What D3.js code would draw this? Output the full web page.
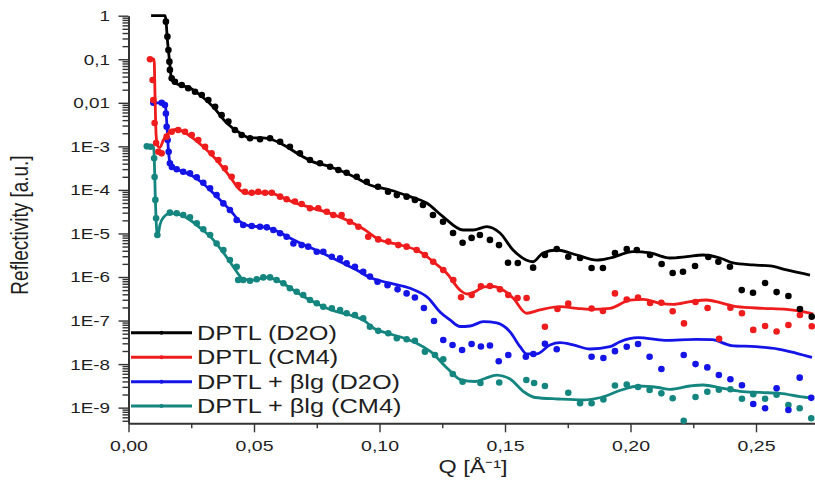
<!DOCTYPE html>
<html>
<head>
<meta charset="utf-8">
<script src="https://cdn.jsdelivr.net/npm/d3@7"></script>
<style>
  html, body { margin: 0; padding: 0; background: #fff; }
  svg { display: block; font-family: "Liberation Sans", Arial, sans-serif; }
</style>
</head>
<body>
<svg id="chart" width="815" height="493"></svg>
<script>
// series names and colours (legend order)
const seriesNames = ["DPTL (D2O)", "DPTL (CM4)", "DPTL + \u03b2lg (D2O)", "DPTL + \u03b2lg (CM4)"];
const seriesColors = ["#000000", "#ee1c1c", "#1414e6", "#15867f"];

// axis ticks
const xTicks = [0, 0.05, 0.10, 0.15, 0.20, 0.25];
const xMinorTicks = [0.025, 0.075, 0.125, 0.175, 0.225];
const yTicks = [1, 0.1, 0.01, 1e-3, 1e-4, 1e-5, 1e-6, 1e-7, 1e-8, 1e-9];
const yTickLabels = ["1", "0,1", "0,01", "1E-3", "1E-4", "1E-5", "1E-6", "1E-7", "1E-8", "1E-9"];

// [Q, reflectivity] : fitted curves
const blackFit = [[0.009,1],[0.0145,1],[0.0149,0.8],[0.0155,0.277],[0.0163,0.096],[0.0172,0.0334],[0.0178,0.0305],[0.0205,0.0256],[0.0245,0.0219],[0.0285,0.0151],[0.0337,8.1e-3],[0.0391,3.44e-3],[0.0444,2.03e-3],[0.0484,1.56e-3],[0.0536,1.56e-3],[0.0576,1.4e-3],[0.063,9.8e-4],[0.0683,6.3e-4],[0.0735,4.4e-4],[0.0803,3.4e-4],[0.0855,2.6e-4],[0.0909,1.87e-4],[0.0962,1.3e-4],[0.1042,9.95e-5],[0.1122,7.0e-5],[0.1188,5.0e-5],[0.1253,2.43e-5],[0.1333,1.2e-5],[0.1373,1.2e-5],[0.1427,1.43e-5],[0.148,1.02e-5],[0.1532,4.17e-6],[0.1612,2.24e-6],[0.1651,3.56e-6],[0.1706,4.17e-6],[0.1786,3.2e-6],[0.1865,2.45e-6],[0.1918,2.73e-6],[0.201,3.81e-6],[0.2078,3.56e-6],[0.2157,2.73e-6],[0.2224,2.92e-6],[0.2289,3.2e-6],[0.2357,2.73e-6],[0.2408,2.1e-6],[0.2488,1.89e-6],[0.2556,1.79e-6],[0.2622,1.45e-6],[0.2715,1.11e-6]];
const redFit = [[0.0073,0.1],[0.0102,0.1],[0.0106,0.0116],[0.011,1.82e-3],[0.0116,1.02e-3],[0.0125,9.4e-4],[0.0139,1.4e-3],[0.0165,2.17e-3],[0.0192,2.47e-3],[0.0218,2.17e-3],[0.0258,1.53e-3],[0.0298,9.8e-4],[0.0351,4.86e-4],[0.0404,2.01e-4],[0.0444,9.95e-5],[0.0471,8.4e-5],[0.0511,8.6e-5],[0.0564,8.6e-5],[0.0604,7.0e-5],[0.067,4.9e-5],[0.0736,3.78e-5],[0.0803,2.9e-5],[0.0869,2.04e-5],[0.0935,1.28e-5],[0.1002,7.1e-6],[0.1055,5.9e-6],[0.1108,4.97e-6],[0.1161,3.81e-6],[0.1214,2.24e-6],[0.1268,1.22e-6],[0.1321,5.0e-7],[0.1349,4.07e-7],[0.138,4.6e-7],[0.1414,5.9e-7],[0.1453,6.05e-7],[0.1493,5.0e-7],[0.1533,3.24e-7],[0.1586,1.47e-7],[0.1639,1.75e-7],[0.1719,2.08e-7],[0.1786,1.91e-7],[0.1839,1.81e-7],[0.1918,1.91e-7],[0.1998,2.96e-7],[0.2051,3.07e-7],[0.2118,2.49e-7],[0.2171,2.36e-7],[0.2237,2.71e-7],[0.2304,2.96e-7],[0.2357,2.57e-7],[0.2423,2.08e-7],[0.2529,1.91e-7],[0.2622,1.81e-7],[0.2688,1.6e-7],[0.2728,1.41e-7]];
const blueFit = [[0.0099,0.01],[0.0145,0.01],[0.0149,6.8e-3],[0.0155,2.0e-3],[0.0159,8.2e-4],[0.0163,4.86e-4],[0.0168,3.73e-4],[0.0185,3.13e-4],[0.0218,2.62e-4],[0.0255,2.08e-4],[0.0297,1.4e-4],[0.0337,8.5e-5],[0.0373,5.3e-5],[0.0408,3.27e-5],[0.0444,1.88e-5],[0.0484,1.48e-5],[0.0536,1.41e-5],[0.059,1.14e-5],[0.0643,7.9e-6],[0.0696,5.6e-6],[0.075,4.06e-6],[0.0803,2.92e-6],[0.0856,2.06e-6],[0.0909,1.45e-6],[0.0962,9.7e-7],[0.1042,7.2e-7],[0.1122,5.5e-7],[0.1194,3.3e-7],[0.1241,1.57e-7],[0.1281,1.03e-7],[0.1321,7.3e-8],[0.1361,7.5e-8],[0.1414,9.4e-8],[0.1467,8.8e-8],[0.152,5.5e-8],[0.156,2.51e-8],[0.1586,1.71e-8],[0.1626,1.71e-8],[0.1679,2.75e-8],[0.1719,3.1e-8],[0.1772,2.75e-8],[0.1839,2.22e-8],[0.1918,2.51e-8],[0.1958,3.27e-8],[0.203,4.04e-8],[0.2137,3.52e-8],[0.2261,3.71e-8],[0.2325,3.63e-8],[0.2402,2.67e-8],[0.25,2.51e-8],[0.2588,2.22e-8],[0.2662,1.77e-8],[0.2723,1.43e-8]];
const tealFit = [[0.0073,1e-3],[0.01,1e-3],[0.0104,2.86e-4],[0.0107,5.9e-5],[0.011,2.04e-5],[0.0116,8.5e-6],[0.0125,1.56e-5],[0.0139,2.32e-5],[0.0165,2.9e-5],[0.0201,2.72e-5],[0.0245,2.04e-5],[0.0291,1.26e-5],[0.0331,7.9e-6],[0.0365,4.56e-6],[0.0404,2.24e-6],[0.0431,1.32e-6],[0.0457,8.9e-7],[0.0497,8.5e-7],[0.0551,9.8e-7],[0.0604,7.8e-7],[0.0657,5.0e-7],[0.071,3.24e-7],[0.0776,2.08e-7],[0.0829,1.6e-7],[0.0882,1.34e-7],[0.0935,1.03e-7],[0.0982,6.4e-8],[0.1042,4.91e-8],[0.1102,3.87e-8],[0.1148,3.01e-8],[0.1205,1.9e-8],[0.1273,7.7e-9],[0.1325,4.32e-9],[0.138,3.98e-9],[0.142,4.67e-9],[0.1467,5.6e-9],[0.152,4.55e-9],[0.1576,2.29e-9],[0.162,1.71e-9],[0.1711,1.58e-9],[0.1811,1.5e-9],[0.1882,1.71e-9],[0.1964,2.54e-9],[0.203,3.14e-9],[0.211,2.9e-9],[0.2157,2.64e-9],[0.2237,3.14e-9],[0.229,3.31e-9],[0.2357,2.86e-9],[0.2436,2.37e-9],[0.2516,2.23e-9],[0.2596,2.13e-9],[0.2675,1.8e-9],[0.2723,1.67e-9]];

// [Q, reflectivity] : measured points
const blackData = [[0.0149,0.73],[0.0155,0.33],[0.0159,0.163],[0.0163,0.088],[0.0165,0.057],[0.0172,0.0366],[0.0185,0.0305],[0.0212,0.0256],[0.0238,0.0215],[0.0265,0.018],[0.0292,0.0151],[0.0318,0.0116],[0.0345,8.1e-3],[0.0371,5.2e-3],[0.0398,3.7e-3],[0.0424,2.37e-3],[0.0451,1.82e-3],[0.0484,1.53e-3],[0.0524,1.45e-3],[0.0564,1.53e-3],[0.0604,1.28e-3],[0.0643,9.8e-4],[0.0683,6.9e-4],[0.0723,4.86e-4],[0.0763,4.08e-4],[0.0803,3.41e-4],[0.0836,2.86e-4],[0.0869,2.48e-4],[0.0909,2.01e-4],[0.0949,1.54e-4],[0.0994,1.18e-4],[0.1034,9.1e-5],[0.1069,7.6e-5],[0.1108,7.0e-5],[0.1141,5.9e-5],[0.1173,4.5e-5],[0.1213,2.65e-5],[0.1253,1.86e-5],[0.1293,1.02e-5],[0.1331,6.1e-6],[0.1367,7.9e-6],[0.14,9.2e-6],[0.144,7.1e-6],[0.1476,5.4e-6],[0.1512,2.13e-6],[0.1551,2.1e-6],[0.1612,1.64e-6],[0.1659,3.2e-6],[0.1706,4.4e-6],[0.1752,2.92e-6],[0.1799,2.73e-6],[0.1845,1.61e-6],[0.189,1.61e-6],[0.1938,3.56e-6],[0.1985,4.4e-6],[0.2025,4.17e-6],[0.2078,3.2e-6],[0.2124,1.99e-6],[0.2168,1.24e-6],[0.2209,1.32e-6],[0.2257,1.79e-6],[0.231,2.88e-6],[0.235,2.24e-6],[0.2396,1.72e-6],[0.2443,5.0e-7],[0.2488,4.35e-7],[0.2536,7.3e-7],[0.2582,4.5e-7],[0.2629,3.66e-7],[0.2675,1.84e-7],[0.2722,1.23e-7]];
const redData = [[0.0086,0.1],[0.0096,0.0334],[0.0099,0.0116],[0.0104,3.44e-3],[0.011,1.19e-3],[0.0119,7.5e-4],[0.0132,6.9e-4],[0.0152,1.67e-3],[0.0172,2.17e-3],[0.0198,2.37e-3],[0.0225,2.17e-3],[0.0252,1.82e-3],[0.0278,1.4e-3],[0.0305,9.8e-4],[0.0331,6.9e-4],[0.0358,4.86e-4],[0.0384,3.13e-4],[0.0411,2.01e-4],[0.0437,1.3e-4],[0.0464,9.1e-5],[0.0491,8.6e-5],[0.0517,9.1e-5],[0.0544,8.6e-5],[0.0571,8.6e-5],[0.0604,7.0e-5],[0.063,6.1e-5],[0.0663,5.4e-5],[0.069,4.75e-5],[0.0723,3.78e-5],[0.0756,3.78e-5],[0.079,3.16e-5],[0.0816,2.65e-5],[0.0849,2.65e-5],[0.0882,1.86e-5],[0.0916,1.43e-5],[0.0955,8.4e-6],[0.0995,7.3e-6],[0.1035,6.5e-6],[0.1075,5.4e-6],[0.1108,4.97e-6],[0.1148,4.17e-6],[0.1181,3.2e-6],[0.1214,2.24e-6],[0.1254,1.45e-6],[0.1294,8.5e-7],[0.1325,3.42e-7],[0.1367,3.86e-7],[0.1404,6.1e-7],[0.144,6.2e-7],[0.148,5.2e-7],[0.1513,3.86e-7],[0.155,3.3e-7],[0.1586,3.3e-7],[0.1659,7.2e-8],[0.1709,1.84e-7],[0.1752,2.44e-7],[0.1845,1.89e-7],[0.189,1.66e-7],[0.1938,4.2e-7],[0.1985,3.04e-7],[0.203,3.38e-7],[0.2078,2.53e-7],[0.2123,2.57e-7],[0.2168,1.63e-7],[0.2213,8.6e-8],[0.2259,2.67e-7],[0.2307,1.94e-7],[0.2353,3.8e-8],[0.2398,1.97e-7],[0.2444,1.47e-7],[0.2489,6.1e-8],[0.2536,7.5e-8],[0.2582,5.6e-8],[0.2629,7.9e-8],[0.2675,1.34e-7],[0.2722,7.4e-8]];
const blueData = [[0.0099,0.01],[0.0132,0.01],[0.0145,8.9e-3],[0.0149,5.7e-3],[0.0152,2.82e-3],[0.0156,1.4e-3],[0.016,7.5e-4],[0.0165,4.08e-4],[0.0173,3.36e-4],[0.0192,2.97e-4],[0.0218,2.62e-4],[0.0245,2.4e-4],[0.0272,1.95e-4],[0.0298,1.46e-4],[0.0325,1.09e-4],[0.0351,7.6e-5],[0.0378,4.9e-5],[0.0404,3.45e-5],[0.0431,2.04e-5],[0.0457,1.56e-5],[0.0491,1.48e-5],[0.0524,1.43e-5],[0.0551,1.38e-5],[0.0577,1.2e-5],[0.0604,1.01e-5],[0.063,8.4e-6],[0.0657,5.9e-6],[0.069,5.4e-6],[0.0716,4.97e-6],[0.075,3.81e-6],[0.0776,3.81e-6],[0.081,2.92e-6],[0.0843,2.69e-6],[0.0869,2.06e-6],[0.0902,1.72e-6],[0.0935,1.32e-6],[0.0962,1.02e-6],[0.0992,7.8e-7],[0.1032,6.5e-7],[0.1072,5.2e-7],[0.1108,4.2e-7],[0.1141,3.38e-7],[0.1177,1.94e-7],[0.1217,9.8e-8],[0.1254,3.57e-8],[0.1291,2.75e-8],[0.1329,2.11e-8],[0.1367,2.9e-8],[0.1404,2.54e-8],[0.144,2.67e-8],[0.1475,1.16e-8],[0.1513,1.62e-8],[0.1583,1.48e-8],[0.1613,1.71e-8],[0.1659,2.94e-8],[0.1706,2.19e-8],[0.1845,1.48e-8],[0.1892,1.38e-8],[0.1938,1.98e-8],[0.1985,2.51e-8],[0.203,2.9e-8],[0.2076,1.48e-8],[0.2123,7.7e-9],[0.2212,1.62e-8],[0.2259,1.0e-8],[0.2306,8.4e-9],[0.2352,5.6e-9],[0.2398,4.48e-9],[0.2444,3.26e-9],[0.2489,1.21e-9],[0.2536,9.7e-10],[0.2582,2.78e-9],[0.2629,8.8e-10],[0.2674,4.88e-9],[0.272,1.68e-9]];
const tealData = [[0.0073,1e-3],[0.0088,9.8e-4],[0.0102,5.3e-4],[0.0104,1.98e-4],[0.0107,5.9e-5],[0.011,2.23e-5],[0.0115,9.2e-6],[0.0165,3.0e-5],[0.0192,2.9e-5],[0.0218,2.65e-5],[0.0245,2.35e-5],[0.0272,1.71e-5],[0.0298,1.25e-5],[0.0325,9.2e-6],[0.0351,5.9e-6],[0.0378,4.17e-6],[0.0404,2.45e-6],[0.0431,1.72e-6],[0.0437,8.5e-7],[0.0457,8.5e-7],[0.0484,8.2e-7],[0.0511,8.9e-7],[0.0537,9.8e-7],[0.0564,9.8e-7],[0.059,8.5e-7],[0.0617,7.2e-7],[0.0643,5.5e-7],[0.067,4.6e-7],[0.0696,3.86e-7],[0.0723,2.96e-7],[0.075,2.49e-7],[0.0776,2.08e-7],[0.081,1.91e-7],[0.0843,1.75e-7],[0.0869,1.47e-7],[0.0902,1.34e-7],[0.0935,1.13e-7],[0.0962,7.2e-8],[0.0995,5.8e-8],[0.1035,5.1e-8],[0.1069,3.91e-8],[0.1108,3.71e-8],[0.1141,3.44e-8],[0.1181,1.93e-8],[0.1221,1.62e-8],[0.1254,1.29e-8],[0.1292,5.9e-9],[0.1331,3.94e-9],[0.1402,3.68e-9],[0.1477,3.78e-9],[0.1585,4.32e-9],[0.1616,3.68e-9],[0.1659,3.14e-9],[0.1752,2.2e-9],[0.1799,1.26e-9],[0.1845,1.26e-9],[0.1892,1.54e-9],[0.1938,3.23e-9],[0.1985,3.4e-9],[0.203,2.98e-9],[0.2076,2.54e-9],[0.2123,2.13e-9],[0.2168,1.64e-9],[0.2212,5.0e-10],[0.2259,1.76e-9],[0.2306,2.32e-9],[0.2352,2.58e-9],[0.2398,2.64e-9],[0.2444,1.6e-9],[0.2489,2.04e-9],[0.2536,1.6e-9],[0.2582,1.98e-9],[0.2629,1.15e-9],[0.2674,9.7e-10],[0.272,5.7e-10]];

const series = [
  {name: seriesNames[0], color: seriesColors[0], fit: blackFit, data: blackData},
  {name: seriesNames[1], color: seriesColors[1], fit: redFit, data: redData},
  {name: seriesNames[2], color: seriesColors[2], fit: blueFit, data: blueData},
  {name: seriesNames[3], color: seriesColors[3], fit: tealFit, data: tealData}
];

const width = 815, height = 493;
const margin = {top: 15.7, right: 0, bottom: 69.7, left: 128.5};
const stretch = 1.3;   // the original picture is wider than tall text would be
const axisColor = "#333";
const textColor = "#1e1e1e";

const svg = d3.select("#chart");

const x = d3.scaleLinear()
  .domain([0, 0.2735])
  .range([margin.left, width - margin.right]);

const y = d3.scaleLog()
  .domain([4.37e-10, 1])
  .range([height - margin.bottom, margin.top]);

// y minor ticks (2..9 in every decade)
const yMinor = [];
for (let e = -10; e <= -1; e++) {
  for (let m = 2; m <= 9; m++) {
    const v = m * Math.pow(10, e);
    if (v >= y.domain()[0] && v <= 1) yMinor.push(v);
  }
}

// axes
const yAxisMinor = svg.append("g")
  .attr("transform", `translate(${margin.left},0)`)
  .call(d3.axisLeft(y).tickValues(yMinor).tickSize(6).tickSizeOuter(0).tickFormat(""));
yAxisMinor.select(".domain").remove();

const yAxis = svg.append("g")
  .attr("transform", `translate(${margin.left},0)`)
  .call(d3.axisLeft(y).tickValues(yTicks).tickSize(10).tickSizeOuter(0)
    .tickFormat((d, i) => yTickLabels[i]));

yAxis.selectAll("text")
  .attr("x", -18.5 / stretch)
  .attr("dy", "0.34em")
  .attr("transform", `scale(${stretch},1)`)
  .attr("font-size", 14.5)
  .attr("fill", textColor);

const xAxisMinor = svg.append("g")
  .attr("transform", `translate(0,${height - margin.bottom})`)
  .call(d3.axisBottom(x).tickValues(xMinorTicks).tickSize(5).tickSizeOuter(0).tickFormat(""));
xAxisMinor.select(".domain").remove();

const xAxis = svg.append("g")
  .attr("transform", `translate(0,${height - margin.bottom})`)
  .call(d3.axisBottom(x).tickValues(xTicks).tickSize(9).tickSizeOuter(0)
    .tickFormat(d => d.toFixed(2).replace(".", ",")));

xAxis.selectAll("text")
  .attr("y", 28.2)
  .attr("dy", 0)
  .attr("transform", `scale(${stretch},1)`)
  .attr("font-size", 15)
  .attr("fill", textColor);

svg.selectAll(".domain").attr("stroke", axisColor).attr("stroke-width", 2);
svg.selectAll(".tick line").attr("stroke", axisColor).attr("stroke-width", 1.4);

// axis titles
svg.append("text")
  .attr("transform", `translate(27.5,225) scale(${stretch},1) rotate(-90)`)
  .attr("text-anchor", "middle")
  .attr("font-size", 19)
  .attr("fill", textColor)
  .text("Reflectivity [a.u.]");

svg.append("text")
  .attr("transform", `translate(473,472.5) scale(${stretch},1)`)
  .attr("text-anchor", "middle")
  .attr("font-size", 18)
  .attr("fill", textColor)
  .text("Q [\u00c5\u207b\u00b9]");

// curves and points, first series drawn last so it sits on top
const line = d3.line()
  .x(d => x(d[0]))
  .y(d => y(d[1]))
  .curve(d3.curveMonotoneX);

const plot = svg.append("g");
series.slice().reverse().forEach(s => {
  plot.append("path")
    .datum(s.fit)
    .attr("fill", "none")
    .attr("stroke", s.color)
    .attr("stroke-width", 2.8)
    .attr("stroke-linejoin", "round")
    .attr("d", line);

  plot.append("g")
    .selectAll("circle")
    .data(s.data)
    .join("circle")
      .attr("cx", d => x(d[0]))
      .attr("cy", d => y(d[1]))
      .attr("r", 3.3)
      .attr("fill", s.color);
});

// legend
const legendY = [332.7, 357.3, 381.7, 406];
const legend = svg.append("g");
series.forEach((s, i) => {
  const g = legend.append("g").attr("transform", `translate(0,${legendY[i]})`);
  g.append("line")
    .attr("x1", 131).attr("x2", 192)
    .attr("stroke", s.color).attr("stroke-width", 3);
  g.append("circle").attr("cx", 161.5).attr("r", 2).attr("fill", s.color);
  g.append("text")
    .attr("transform", `translate(197,7) scale(${stretch},1)`)
    .attr("font-size", 19.5)
    .attr("fill", textColor)
    .text(s.name);
});
</script>
</body>
</html>
